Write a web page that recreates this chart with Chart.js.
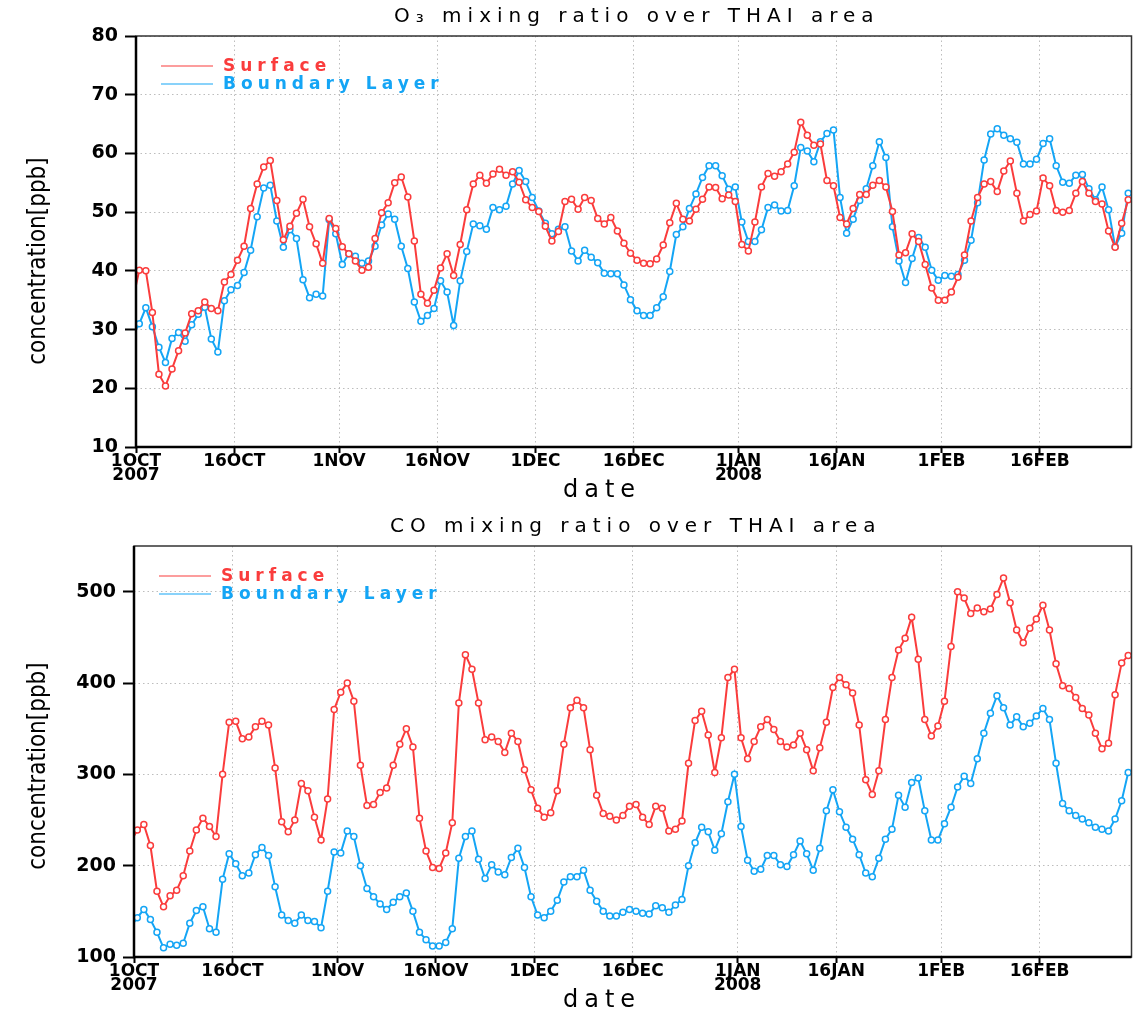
<!DOCTYPE html>
<html>
<head>
<meta charset="utf-8">
<title>O3 and CO mixing ratio over THAI area</title>
<script src="https://cdn.jsdelivr.net/npm/chart.js@4.4.1/dist/chart.umd.min.js"></script>
<style>
  html, body { margin: 0; padding: 0; background: #fff; overflow: hidden; }
  #wrap { position: relative; width: 1137px; height: 1014px; }
  canvas { position: absolute; left: 0; }
  #o3Chart { top: 0; }
  #coChart { top: 510px; }
</style>
</head>
<body>
<div id="wrap">
  <canvas id="o3Chart" width="1137" height="510"></canvas>
  <canvas id="coChart" width="1137" height="504"></canvas>
</div>
<script>
// date axis: days after 1 Oct 2007
const tickDays = [0, 15, 31, 46, 61, 76, 92, 107, 123, 138];
const tickLabels = [['1OCT', '2007'], '16OCT', '1NOV', '16NOV', '1DEC', '16DEC', ['1JAN', '2008'], '16JAN', '1FEB', '16FEB'];
// daily means, first value is 30 Sep (plotted at noon)
const firstX = -0.5;

const o3Ticks = [10, 20, 30, 40, 50, 60, 70, 80];
const coTicks = [100, 200, 300, 400, 500];

// O3 [ppb]
const o3Surface = [35,
  40.1, 40.0, 32.9, 22.4, 20.4, 23.3, 26.4, 29.4, 32.7, 33.2,
  34.7, 33.6, 33.2, 38.1, 39.4, 41.8, 44.2, 50.6, 54.8, 57.7,
  58.8, 52.0, 45.3, 47.6, 49.8, 52.2, 47.5, 44.6, 41.3, 48.9,
  47.2, 44.1, 42.9, 41.7, 40.1, 40.6, 45.5, 49.9, 51.6, 55.0,
  56.0, 52.6, 45.1, 36.0, 34.5, 36.7, 40.5, 42.9, 39.2, 44.5,
  50.4, 54.8, 56.3, 54.9, 56.5, 57.3, 56.3, 56.9, 55.1, 52.1,
  50.8, 50.1, 47.6, 45.1, 46.7, 51.8, 52.2, 50.5, 52.5, 52.0,
  48.9, 48.0, 49.1, 46.8, 44.7, 43.0, 41.8, 41.3, 41.2, 42.0,
  44.4, 48.2, 51.5, 48.8, 48.5, 50.5, 52.2, 54.3, 54.2, 52.3,
  52.9, 51.8, 44.5, 43.4, 48.3, 54.3, 56.6, 56.1, 56.9, 58.2,
  60.2, 65.3, 63.1, 61.4, 61.6, 55.4, 54.5, 49.1, 48.0, 50.6,
  53.0, 53.0, 54.6, 55.4, 54.3, 50.1, 42.7, 43.1, 46.3, 45.0,
  41.1, 37.1, 35.0, 35.0, 36.4, 38.9, 42.7, 48.5, 52.5, 54.8,
  55.2, 53.5, 57.0, 58.7, 53.2, 48.5, 49.6, 50.2, 55.8, 54.5,
  50.3, 50.0, 50.3, 53.2, 55.2, 53.2, 51.8, 51.4, 46.8, 44.0,
  48.1, 52.1];
const o3Boundary = [29,
  31.0, 33.7, 30.5, 27.0, 24.4, 28.5, 29.5, 28.0, 30.8, 32.6,
  33.8, 28.4, 26.2, 34.9, 36.8, 37.5, 39.7, 43.5, 49.2, 54.1,
  54.6, 48.5, 44.0, 47.0, 45.5, 38.5, 35.4, 36.0, 35.7, 48.7,
  46.3, 41.1, 42.9, 42.5, 41.3, 41.7, 44.2, 47.8, 49.7, 48.8,
  44.2, 40.4, 34.7, 31.4, 32.4, 33.6, 38.3, 36.4, 30.7, 38.3,
  43.3, 48.0, 47.7, 47.1, 50.8, 50.4, 51.0, 54.8, 57.1, 55.2,
  52.5, 50.2, 48.1, 46.3, 47.1, 47.5, 43.4, 41.7, 43.5, 42.3,
  41.4, 39.6, 39.5, 39.5, 37.6, 35.1, 33.2, 32.4, 32.4, 33.7,
  35.6, 39.9, 46.2, 47.5, 50.6, 53.1, 55.9, 57.9, 57.9, 56.2,
  53.9, 54.3, 48.3, 45.0, 45.0, 47.0, 50.8, 51.2, 50.2, 50.3,
  54.5, 61.0, 60.4, 58.6, 62.0, 63.4, 64.0, 52.5, 46.4, 48.8,
  52.0, 54.0, 57.9, 62.0, 59.3, 47.5, 41.7, 38.0, 42.1, 45.7,
  44.0, 40.1, 38.4, 39.2, 39.1, 39.4, 41.8, 45.2, 51.6, 58.9,
  63.3, 64.2, 63.1, 62.5, 61.9, 58.2, 58.2, 59.0, 61.7, 62.5,
  57.9, 55.1, 54.9, 56.3, 56.4, 54.0, 52.1, 54.3, 50.4, 44.1,
  46.4, 53.2];

// CO [ppb]
const coSurface = [226,
  239, 245, 222, 172, 155, 167, 173, 189, 216, 239,
  252, 243, 232, 300, 357, 358, 339, 341, 352, 358,
  354, 307, 248, 237, 250, 290, 282, 253, 228, 273,
  371, 390, 400, 380, 310, 266, 267, 280, 285, 310,
  333, 350, 330, 252, 216, 198, 197, 214, 247, 378,
  431, 415, 378, 338, 341, 336, 324, 345, 336, 305,
  283, 263, 253, 258, 282, 333, 373, 381, 373, 327,
  277, 257, 254, 250, 255, 265, 267, 253, 245, 265,
  263, 238, 240, 249, 312, 359, 369, 343, 302, 340,
  406, 415, 340, 317, 336, 352, 360, 349, 336, 330,
  332, 345, 327, 304, 329, 357, 395, 406, 398, 389,
  354, 294, 278, 304, 360, 406, 436, 449, 472, 426,
  360, 342, 353, 380, 440, 500, 493, 476, 482, 478,
  481, 497, 515, 488, 458, 444, 460, 470, 485, 458,
  421, 397, 394, 384, 372, 365, 345, 328, 334, 387,
  422, 430];
const coBoundary = [133,
  143, 152, 141, 127, 110, 114, 113, 115, 137, 151,
  155, 131, 127, 185, 213, 202, 189, 192, 212, 220,
  211, 177, 146, 140, 137, 146, 140, 139, 132, 172,
  215, 214, 238, 232, 200, 175, 166, 158, 152, 160,
  166, 170, 150, 127, 119, 112, 112, 116, 131, 208,
  232, 238, 207, 186, 201, 193, 190, 209, 219, 198,
  166, 146, 143, 150, 162, 182, 188, 188, 195, 173,
  161, 150, 145, 145, 149, 152, 150, 148, 147, 156,
  154, 149, 157, 163, 200, 225, 242, 237, 217, 235,
  270, 300, 243, 206, 194, 196, 211, 211, 201, 199,
  212, 227, 213, 195, 219, 260, 283, 259, 242, 229,
  212, 192, 188, 208, 229, 240, 277, 264, 291, 296,
  260, 228, 228, 246, 264, 286, 298, 290, 317, 345,
  367, 386, 373, 354, 363, 352, 356, 364, 372, 360,
  312, 268, 260, 255, 251, 247, 242, 240, 238, 251,
  271, 302];

const RED = 'rgb(250, 60, 60)';
const BLUE = 'rgb(20, 165, 245)';

Chart.defaults.font.family = '"DejaVu Sans", sans-serif';

// frame, titles and legend drawn grads-style (wide letter spacing)
const gradsDecor = {
  id: 'gradsDecor',
  afterDraw(chart, _args, opts) {
    const { ctx, chartArea: a } = chart;
    ctx.save();
    ctx.strokeStyle = '#333';
    ctx.lineWidth = 1.5;
    ctx.strokeRect(a.left, a.top, a.right - a.left, a.bottom - a.top);
    ctx.strokeStyle = '#000';
    ctx.lineWidth = 2.5;
    ctx.beginPath();
    ctx.moveTo(a.left, a.top);
    ctx.lineTo(a.left, a.bottom);
    ctx.lineTo(a.right, a.bottom);
    ctx.stroke();

    ctx.fillStyle = '#000';
    ctx.textAlign = 'center';
    ctx.textBaseline = 'middle';
    ctx.letterSpacing = '6px';
    ctx.font = '20px "DejaVu Sans"';
    ctx.fillText(opts.title, (a.left + a.right) / 2 + 3, 17);
    ctx.font = '24px "DejaVu Sans"';
    ctx.fillText('date', 602, 491);

    // legend in the upper left corner of the plot
    ctx.textAlign = 'left';
    ctx.letterSpacing = '5px';
    ctx.font = 'bold 17px "DejaVu Sans"';
    chart.data.datasets.forEach((ds, k) => {
      const y = a.top + 30 + k * 18;
      ctx.strokeStyle = ds.borderColor;
      ctx.lineWidth = 1.2;
      ctx.beginPath();
      ctx.moveTo(a.left + 25, y);
      ctx.lineTo(a.left + 77, y);
      ctx.stroke();
      ctx.fillStyle = ds.borderColor;
      ctx.fillText(ds.label, a.left + 87, y + 1);
    });

    ctx.letterSpacing = '0px';
    ctx.fillStyle = '#000';
    ctx.textAlign = 'center';
    ctx.translate(39, opts.yTitleY);
    ctx.rotate(-Math.PI / 2);
    ctx.font = '24px "DejaVu Sans Condensed", "Liberation Sans Narrow", "DejaVu Sans"';
    ctx.fillText('concentration[ppb]', 0, 0);
    ctx.restore();
  }
};

function series(label, values, color) {
  return {
    label: label,
    data: values.map((v, i) => ({ x: firstX + i, y: v })),
    borderColor: color,
    backgroundColor: color,
    borderWidth: 2,
    pointRadius: 3,
    pointBorderWidth: 1.5,
    pointBackgroundColor: '#fff',
    pointBorderColor: color,
    tension: 0,
    clip: 0
  };
}

function makeChart(id, title, surface, boundary, yTicks, yMin, yMax, yAxisWidth, yTitleY) {
  const canvas = document.getElementById(id);
  const xAxisHeight = canvas.height - 447;
  return new Chart(canvas, {
    type: 'line',
    data: {
      datasets: [series('Surface', surface, RED), series('Boundary Layer', boundary, BLUE)]
    },
    options: {
      responsive: false,
      animation: false,
      devicePixelRatio: 1,
      layout: { padding: { top: 36, right: 1, bottom: 0, left: 0 } },
      scales: {
        x: {
          type: 'linear',
          min: 0,
          max: 152,
          afterBuildTicks: (s) => { s.ticks = tickDays.map(v => ({ value: v })); },
          afterFit: (s) => { s.height = xAxisHeight; },
          ticks: {
            autoSkip: false,
            maxRotation: 0,
            padding: 1,
            color: '#000',
            font: { size: 17, weight: 'bold', lineHeight: 0.85 },
            callback: (v) => tickLabels[tickDays.indexOf(v)]
          },
          grid: { color: '#bdbdbd', lineWidth: 1, tickColor: '#000', tickWidth: 2, tickLength: 6 },
          border: { display: false, dash: [1.5, 3] }
        },
        y: {
          min: yMin,
          max: yMax,
          afterBuildTicks: (s) => { s.ticks = yTicks.map(v => ({ value: v })); },
          afterFit: (s) => { s.width = yAxisWidth; },
          ticks: {
            padding: 7,
            color: '#000',
            font: { size: 19, weight: 'bold' }
          },
          grid: { color: '#bdbdbd', lineWidth: 1, tickColor: '#000', tickWidth: 2, tickLength: 11 },
          border: { display: false, dash: [1.5, 3] }
        }
      },
      plugins: {
        legend: { display: false },
        tooltip: { enabled: false },
        gradsDecor: { title: title, yTitleY: yTitleY }
      }
    },
    plugins: [gradsDecor]
  });
}

makeChart('o3Chart', 'O\u2083 mixing ratio over THAI area', o3Surface, o3Boundary, o3Ticks, 10, 80, 136, 261);
makeChart('coChart', 'CO mixing ratio over THAI area', coSurface, coBoundary, coTicks, 100, 550, 134, 256);
</script>
</body>
</html>
